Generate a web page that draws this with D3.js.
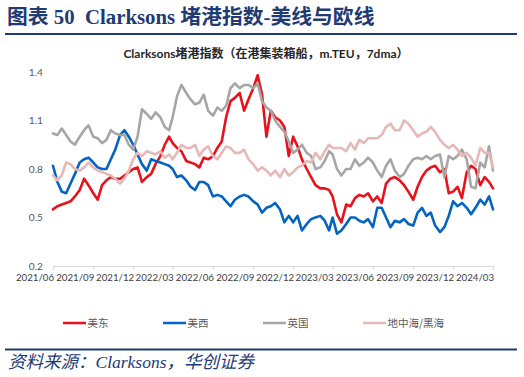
<!DOCTYPE html>
<html><head><meta charset="utf-8">
<script src="https://cdn.jsdelivr.net/npm/d3@7"></script>
<style>body{margin:0;background:#fff}svg{display:block}</style>
</head><body>
<svg id="c" width="524" height="377"></svg>
<script>
const dates = [
"2021-06-01","2021-06-11","2021-06-21","2021-07-01","2021-07-11","2021-07-21","2021-08-01","2021-08-11","2021-08-21",
"2021-09-01","2021-09-11","2021-09-21","2021-10-01","2021-10-11","2021-10-21","2021-11-01","2021-11-11","2021-11-21",
"2021-12-01","2021-12-11","2021-12-21","2022-01-01","2022-01-11","2022-01-21","2022-02-01","2022-02-11","2022-02-21",
"2022-03-01","2022-03-11","2022-03-21","2022-04-01","2022-04-11","2022-04-21","2022-05-01","2022-05-11","2022-05-21",
"2022-06-01","2022-06-11","2022-06-21","2022-07-01","2022-07-11","2022-07-21","2022-08-01","2022-08-11","2022-08-21",
"2022-09-01","2022-09-11","2022-09-21","2022-10-01","2022-10-11","2022-10-21","2022-11-01","2022-11-11","2022-11-21",
"2022-12-01","2022-12-11","2022-12-21","2023-01-01","2023-01-11","2023-01-21","2023-02-01","2023-02-11","2023-02-21",
"2023-03-01","2023-03-11","2023-03-21","2023-04-01","2023-04-11","2023-04-21","2023-05-01","2023-05-11","2023-05-21",
"2023-06-01","2023-06-11","2023-06-21","2023-07-01","2023-07-11","2023-07-21","2023-08-01","2023-08-11","2023-08-21",
"2023-09-01","2023-09-11","2023-09-21","2023-10-01","2023-10-11","2023-10-21","2023-11-01","2023-11-11","2023-11-21",
"2023-12-01","2023-12-11","2023-12-21","2024-01-01","2024-01-11","2024-01-21","2024-02-01","2024-02-11","2024-02-21",
"2024-03-01"];
const usEast = [0.55,0.57,0.58,0.59,0.60,0.63,0.67,0.74,0.70,0.65,0.61,0.70,0.73,0.75,0.74,0.74,0.76,0.78,
0.80,0.81,0.72,0.75,0.77,0.83,0.88,0.95,1.00,0.96,0.93,0.91,0.85,0.84,0.83,0.81,0.87,0.86,
0.88,0.93,0.97,1.12,1.22,1.24,1.27,1.16,1.23,1.30,1.38,1.26,1.00,1.16,1.12,1.10,1.06,0.88,
1.00,0.94,0.86,0.80,0.75,0.70,0.68,0.68,0.67,0.63,0.52,0.47,0.58,0.57,0.62,0.64,0.63,0.65,
0.60,0.63,0.59,0.71,0.74,0.75,0.73,0.70,0.66,0.61,0.69,0.75,0.79,0.81,0.82,0.78,0.80,0.65,
0.66,0.69,0.62,0.78,0.82,0.80,0.70,0.75,0.72,0.68];
const usWest = [0.82,0.72,0.66,0.65,0.71,0.77,0.84,0.86,0.87,0.84,0.81,0.80,0.80,0.86,0.92,1.01,1.04,1.00,
0.95,0.89,0.83,0.79,0.86,0.85,0.84,0.83,0.82,0.80,0.75,0.76,0.73,0.69,0.67,0.72,0.72,0.70,
0.63,0.64,0.63,0.60,0.57,0.61,0.63,0.64,0.63,0.60,0.58,0.53,0.56,0.57,0.59,0.55,0.47,0.51,
0.47,0.51,0.42,0.46,0.49,0.50,0.51,0.48,0.42,0.50,0.40,0.42,0.46,0.50,0.50,0.48,0.47,0.49,
0.44,0.56,0.56,0.50,0.44,0.48,0.47,0.49,0.46,0.45,0.53,0.56,0.51,0.53,0.45,0.41,0.44,0.51,
0.60,0.57,0.59,0.56,0.52,0.56,0.61,0.58,0.63,0.55];
const uk = [1.02,1.01,1.05,1.01,0.97,0.95,1.00,1.04,1.07,1.00,0.99,0.96,0.98,1.04,1.02,1.01,1.01,0.95,
0.92,1.00,1.17,1.14,1.11,1.15,1.12,1.06,1.04,1.12,1.25,1.32,1.27,1.23,1.20,1.21,1.26,1.16,
1.13,1.18,1.16,1.19,1.30,1.33,1.30,1.32,1.32,1.30,1.33,1.22,1.18,1.16,1.10,1.06,1.03,0.97,
0.90,0.92,0.95,0.90,0.88,0.80,0.81,0.85,0.91,0.89,0.80,0.76,0.80,0.80,0.86,0.82,0.84,0.87,
0.84,0.79,0.75,0.82,0.86,0.79,0.75,0.77,0.82,0.86,0.87,0.86,0.88,0.86,0.88,0.89,0.75,0.88,
0.86,0.88,0.92,0.86,0.69,0.68,0.84,0.81,0.94,0.79];
const medBlack = [0.76,0.73,0.76,0.84,0.83,0.80,0.79,0.81,0.84,0.81,0.79,0.78,0.77,0.76,0.74,0.71,0.74,0.79,
0.86,0.90,0.88,0.91,0.90,0.89,0.91,0.87,0.89,0.86,0.90,0.95,0.93,0.93,0.95,0.88,0.92,0.94,
0.88,0.86,0.90,0.94,0.93,0.90,0.90,0.92,0.86,0.83,0.79,0.81,0.79,0.76,0.79,0.75,0.80,0.76,
0.78,0.81,0.82,0.85,0.84,0.90,0.86,0.91,0.95,0.93,0.93,0.93,0.91,0.96,0.92,0.98,0.96,0.99,
0.99,0.99,1.01,1.06,1.08,1.04,1.04,1.10,1.08,1.04,1.00,1.02,1.03,1.06,1.03,0.98,0.95,0.93,
0.95,0.92,0.88,0.90,0.87,0.82,0.93,0.90,0.90,0.81];
const seriesNames = ["美东","美西","英国","地中海/黑海"];
const seriesColors = ["#e8121c","#0563c1","#a6a6a6","#e6b8b7"];
const xTickDates = ["2021-06-01","2021-09-01","2021-12-01","2022-03-01","2022-06-01","2022-09-01","2022-12-01","2023-03-01","2023-06-01","2023-09-01","2023-12-01","2024-03-01"];
const xTickLabels = ["2021/06","2021/09","2021/12","2022/03","2022/06","2022/09","2022/12","2023/03","2023/06","2023/09","2023/12","2024/03"];
const yTicks = [0.2,0.5,0.8,1.1,1.4];

const parse = d3.timeParse("%Y-%m-%d");
const svg = d3.select("#c");
const navy = "#1f3b73";

// header
svg.append("text").attr("x",7).attr("y",23.5)
  .attr("font-family","'Liberation Serif','Noto Sans CJK SC'").attr("font-weight","bold")
  .attr("font-size",20.8).attr("fill",navy).attr("xml:space","preserve")
  .text("图表 50  Clarksons 堵港指数-美线与欧线");
svg.append("rect").attr("x",5).attr("y",33).attr("width",512).attr("height",2).attr("fill",navy);

// chart title
svg.append("text").attr("x",266).attr("y",58).attr("text-anchor","middle")
  .attr("font-family","Lato,'Noto Sans CJK SC'").attr("font-weight","bold")
  .attr("font-size",12).attr("fill","#262626")
  .text("Clarksons堵港指数（在港集装箱船，m.TEU，7dma）");

const x = d3.scaleTime().domain([parse("2021-06-01"), parse("2024-03-01")]).range([53,493]);
const y = d3.scaleLinear().domain([0.2,1.4]).range([266,72]);

// x axis
const xa = svg.append("g").attr("transform","translate(0,266)")
  .call(d3.axisBottom(x).tickValues(xTickDates.map(parse)).tickSizeInner(4).tickSizeOuter(0)
    .tickFormat((d,i)=>xTickLabels[i]));
xa.select(".domain").attr("stroke","#d9d9d9");
xa.selectAll(".tick line").attr("stroke","#d9d9d9");
xa.selectAll(".tick text").attr("text-anchor","end").attr("x",0.5).attr("y",8).attr("dy","0.71em")
  .attr("font-family","Lato,'Liberation Sans'").attr("font-size",9.7).attr("fill","#404040");

// y axis
const ya = svg.append("g").attr("transform","translate(53,0)")
  .call(d3.axisLeft(y).tickValues(yTicks).tickSize(0).tickPadding(10).tickFormat(d3.format(".1f")));
ya.select(".domain").remove();
ya.selectAll(".tick text").attr("font-family","Lato,'Liberation Sans'").attr("font-size",10.2).attr("fill","#595959");

// lines
const allSeries = [usEast, usWest, uk, medBlack];
const line = d3.line().x((d,i)=>x(parse(dates[i]))).y(d=>y(d));
allSeries.forEach((s,k)=>{
  svg.append("path").datum(s).attr("d",line).attr("fill","none")
    .attr("stroke",seriesColors[k]).attr("stroke-width",2.6)
    .attr("stroke-linejoin","round").attr("stroke-linecap","round");
});

// legend
const legX = [63,163,263,363];
seriesNames.forEach((n,k)=>{
  svg.append("line").attr("x1",legX[k]).attr("x2",legX[k]+23).attr("y1",323).attr("y2",323)
    .attr("stroke",seriesColors[k]).attr("stroke-width",2.5);
  svg.append("text").attr("x",legX[k]+24.5).attr("y",327).attr("font-family","'Noto Sans CJK SC'")
    .attr("font-size",10.5).attr("fill","#595959").text(n);
});

// footer
svg.append("rect").attr("x",5).attr("y",348.5).attr("width",512).attr("height",2).attr("fill",navy);
svg.append("text").attr("x",8).attr("y",367.5).attr("font-family","'Liberation Serif','Noto Sans CJK SC'")
  .attr("font-style","italic").attr("font-size",17.5).attr("fill",navy)
  .text("资料来源：Clarksons，华创证券");
</script>
</body></html>
